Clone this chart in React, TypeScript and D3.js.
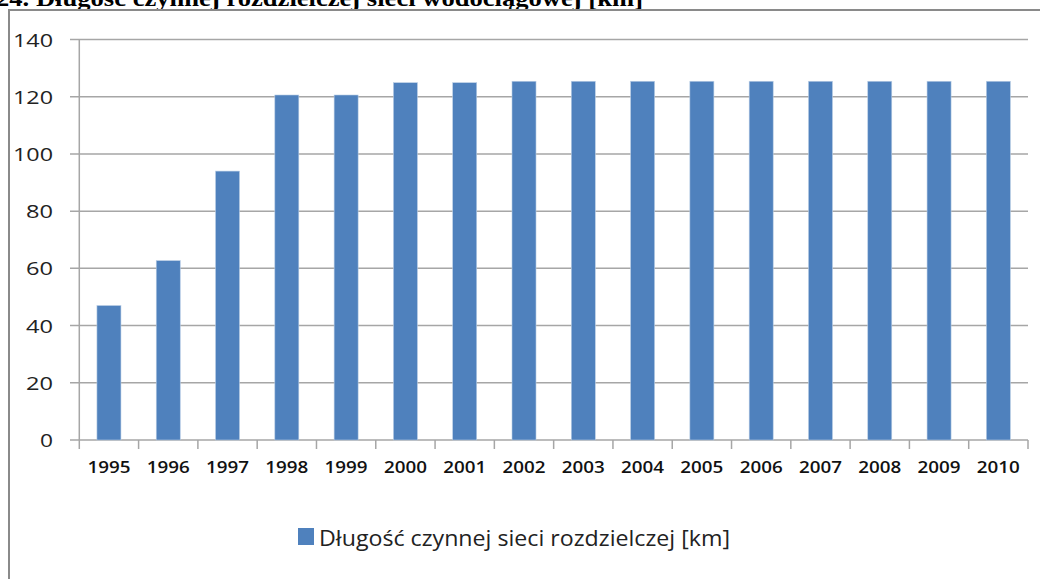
import React from "react";
import * as d3 from "d3";

const years = ["1995","1996","1997","1998","1999","2000","2001","2002","2003","2004","2005","2006","2007","2008","2009","2010"];
const lengths = [47, 62.7, 94, 120.6, 120.6, 124.9, 124.9, 125.4, 125.4, 125.4, 125.4, 125.4, 125.4, 125.4, 125.4, 125.4];
const yTicks = [0, 20, 40, 60, 80, 100, 120, 140];
const seriesName = "Długość czynnej sieci rozdzielczej [km]";
const titleText = "24. Długość czynnej rozdzielczej sieci wodociągowej [km]";

const W = 1040, H = 579;
const left = 79.3, right = 1028, top = 39.5, bottom = 440;
const FONT = "'Open Sans', 'DejaVu Sans', sans-serif";

export default function App() {
  const x = d3.scaleBand<string>().domain(years).range([left, right]).paddingInner(0.595).paddingOuter(0.2975);
  const xb = d3.scaleBand<string>().domain(years).range([left, right]);
  const y = d3.scaleLinear().domain([0, 140]).range([bottom, top]);
  const grid = "#a6a6a6";
  return (
    <svg width={W} height={H} style={{ position: "absolute", left: 0, top: 0, background: "#fff" }}>
      <text x={-4} y={6} fontFamily="'Liberation Serif', serif" fontWeight="bold" fontSize={24} fill="#000"
        textLength={647} lengthAdjust="spacingAndGlyphs">{titleText}</text>
      <rect x={9} y={10} width={1100} height={700} fill="#fff" stroke="#8a8a8a" strokeWidth={2} />
      {yTicks.map(t => (
        <g key={t}>
          <line x1={70} x2={right} y1={y(t)} y2={y(t)} stroke={grid} strokeWidth={1.5} />
          <text x={53} y={y(t) + 7} textAnchor="end" fontFamily={FONT} fontSize={19} fill="#222"
            textLength={t >= 100 ? 40 : t >= 10 ? 27 : 13} lengthAdjust="spacingAndGlyphs">{t}</text>
        </g>
      ))}
      <line x1={left} x2={left} y1={top} y2={bottom} stroke={grid} strokeWidth={1.5} />
      {years.map(yr => (
        <line key={"t" + yr} x1={xb(yr)!} x2={xb(yr)!} y1={bottom} y2={bottom + 9} stroke={grid} strokeWidth={1.5} />
      ))}
      <line x1={right} x2={right} y1={bottom} y2={bottom + 9} stroke={grid} strokeWidth={1.5} />
      {years.map((yr, i) => (
        <rect key={"b" + yr} x={x(yr)!} y={y(lengths[i])} width={x.bandwidth()} height={bottom - y(lengths[i])}
          fill="#4f81bd" stroke="#b9cde5" strokeWidth={0.6} />
      ))}
      {years.map(yr => (
        <text key={"l" + yr} x={xb(yr)! + xb.bandwidth() / 2} y={473} textAnchor="middle" fontFamily={FONT}
          fontWeight={600} fontSize={16} fill="#111" textLength={43} lengthAdjust="spacingAndGlyphs">{yr}</text>
      ))}
      <rect x={298} y={528} width={16} height={17} fill="#4f81bd" />
      <text x={319} y={546} fontFamily={FONT} fontSize={21} fill="#222" textLength={411} lengthAdjust="spacingAndGlyphs">{seriesName}</text>
    </svg>
  );
}
